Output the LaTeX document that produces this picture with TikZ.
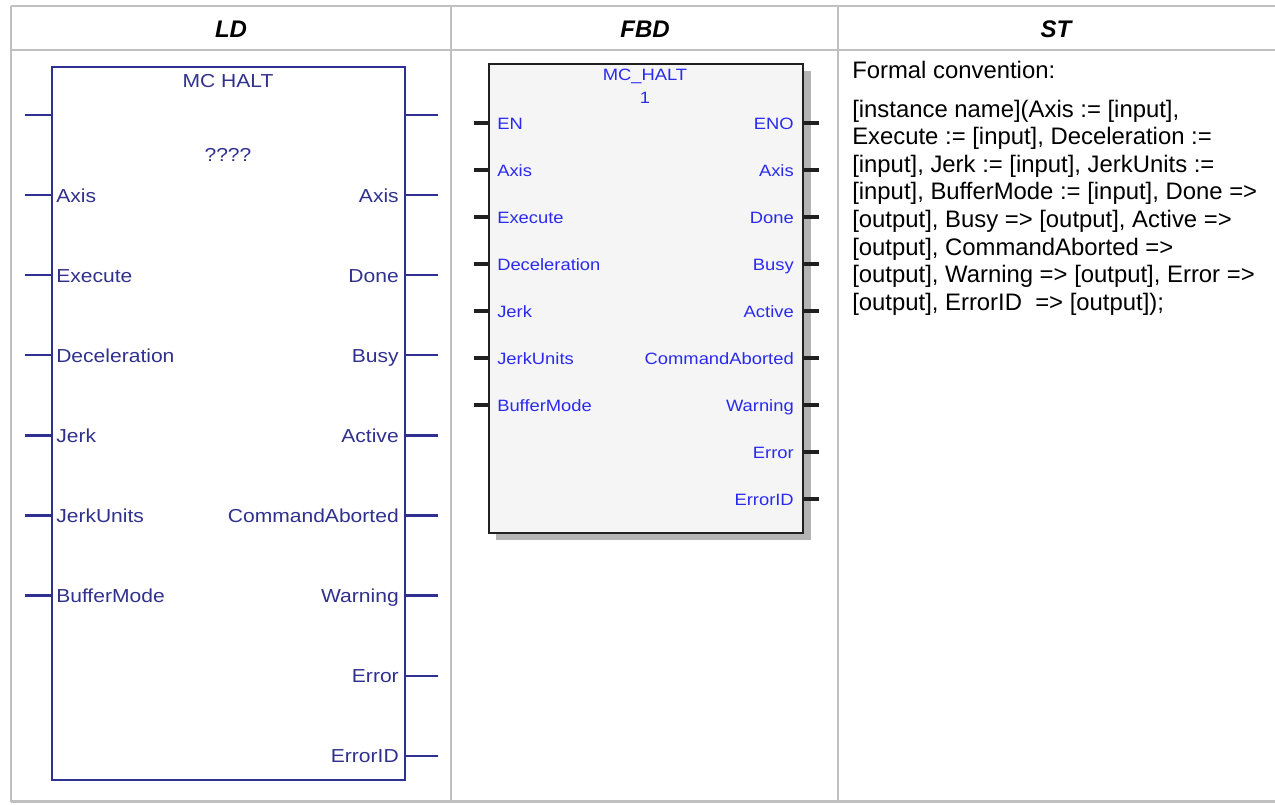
\documentclass[tikz,border=0pt]{standalone}
\usepackage{fontspec}
\setmainfont{Liberation Sans}
\newfontfamily\pinfont[FakeStretch=1.12]{Liberation Sans}
\usetikzlibrary{positioning,calc}
\definecolor{gridgray}{HTML}{C0C0C0}
\definecolor{ldblue}{HTML}{2E3192}
\definecolor{ldtext}{HTML}{30308E}
\definecolor{fbdblack}{HTML}{202020}
\definecolor{fbdtext}{HTML}{2A2AEE}
\definecolor{fbdfill}{HTML}{F5F5F5}
\definecolor{fbdshadow}{HTML}{B4B4B4}

\begin{document}
\begin{tikzpicture}[x=0.75pt,y=-0.75pt,
  grid/.style={draw=gridgray, line width=1.5pt},
  ldline/.style={draw=ldblue, line width=1.7pt},
  ldpin/.style={font=\pinfont\fontsize{14.1}{16}\selectfont, text=ldtext, inner sep=0pt},
  fbdline/.style={draw=fbdblack, line width=1.5pt},
  fbdstub/.style={draw=fbdblack, line width=2.4pt},
  fbdpin/.style={font=\pinfont\fontsize{12.3}{14}\selectfont, text=fbdtext, inner sep=0pt},
  head/.style={font=\bfseries\itshape\fontsize{18}{20}\selectfont, inner sep=0pt},
  sttext/.style={font=\fontsize{17.9}{20.7}\selectfont, anchor=base west, inner sep=0pt}]
  \useasboundingbox (0,0) rectangle (1275,804);
  % ------------------------------------------------------------------ table
  \draw[grid] (11,6) -- (1275,6);
  \draw[grid] (11,50) -- (1275,50);
  \draw[grid, line width=2pt] (11,801.5) -- (1275,801.5);
  \draw[grid] (11,6) -- (11,802);
  \foreach \x in {451,838} {\draw[grid, line width=1pt] (\x,6) -- (\x,802);}
  \node[head] (hdld) at (231,29) {LD};
  \node[head] (hdfbd) at (645,29) {FBD};
  \node[head] (hdst) at (1056,29) {ST};
  % ------------------------------------------------------------------ LD block
  \coordinate (ldNW) at (52,67);
  \coordinate (ldSE) at (405,780);
  \draw[ldline] (ldNW) rectangle (ldSE);
  \node[ldpin] (ldname) at (228,81) {MC HALT};
  \node[ldpin] (ldinst) at (228,155) {????};
  \coordinate (ldenL) at (25,115);
  \coordinate (ldenR) at (438,115);
  \draw[ldline] (ldenL) -- (ldenL -| ldNW);
  \draw[ldline] (ldenR) -- (ldenR -| ldSE);
  \foreach \lbl [count=\i] in {Axis,Execute,Deceleration,Jerk,JerkUnits,BufferMode} {
    \coordinate (ldinL\i) at (25,115+80.1*\i);
    \draw[ldline] (ldinL\i) -- (ldinL\i -| ldNW);
    \node[ldpin, anchor=base west] (ldin\i) at (56,122+80.1*\i) {\lbl};
  }
  \foreach \lbl [count=\i] in {Axis,Done,Busy,Active,CommandAborted,Warning,Error,ErrorID} {
    \coordinate (ldoutR\i) at (438,115+80.1*\i);
    \draw[ldline] (ldoutR\i) -- (ldoutR\i -| ldSE);
    \node[ldpin, anchor=base east] (ldout\i) at (399,122+80.1*\i) {\lbl};
  }
  % ------------------------------------------------------------------ FBD block
  \coordinate (fbNW) at (489,64);
  \coordinate (fbSE) at (803,533);
  \fill[fbdshadow] (496,71) rectangle (811,540);
  \draw[fbdline, fill=fbdfill] (fbNW) rectangle (fbSE);
  \node[fbdpin] (fbname) at (645,76) {MC\_HALT};
  \node[fbdpin] (fbinst) at (645,98) {1};
  \foreach \lbl [count=\i] in {EN,Axis,Execute,Deceleration,Jerk,JerkUnits,BufferMode} {
    \coordinate (fbinL\i) at (474,76+47*\i);
    \draw[fbdstub] (fbinL\i) -- (fbinL\i -| fbNW);
    \node[fbdpin, anchor=base west] (fbin\i) at (497,82+47*\i) {\lbl};
  }
  \foreach \lbl [count=\i] in {ENO,Axis,Done,Busy,Active,CommandAborted,Warning,Error,ErrorID} {
    \coordinate (fboutR\i) at (819,76+47*\i);
    \draw[fbdstub] (fboutR\i) -- (fboutR\i -| fbSE);
    \node[fbdpin, anchor=base east] (fbout\i) at (794,82+47*\i) {\lbl};
  }
  % ------------------------------------------------------------------ ST text
  \node[sttext] (sthead) at (852,78) {Formal convention:};
  \foreach \ln [count=\k] in {{[instance name](Axis := [input],},
      {Execute := [input], Deceleration :=},
      {[input], Jerk := [input], JerkUnits :=},
      {[input], BufferMode := [input], Done =>},
      {[output], Busy => [output], Active =>},
      {[output], CommandAborted =>},
      {[output], Warning => [output], Error =>},
      {[output], ErrorID\ \ => [output]);}} {
    \node[sttext] (stline\k) at (852,89.4+27.6*\k) {\ln};
  }
\end{tikzpicture}
\end{document}
